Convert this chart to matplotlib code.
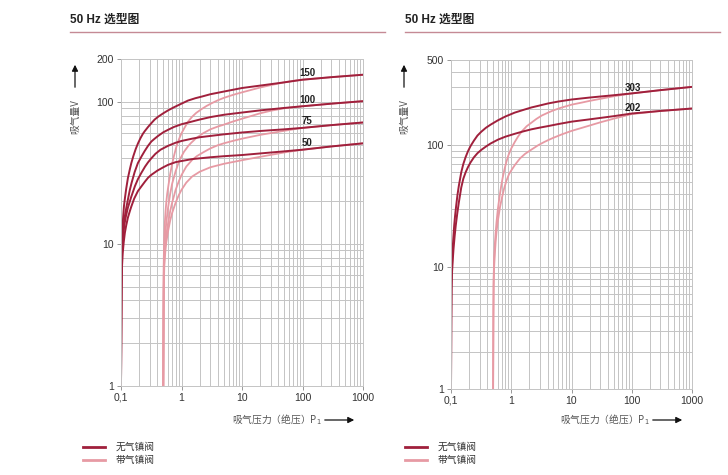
import numpy as np
import matplotlib
matplotlib.use("Agg")
from matplotlib import pyplot as plt
from matplotlib.lines import Line2D
from matplotlib.ticker import FixedLocator, LogLocator, NullFormatter

plt.rcParams['font.family'] = ['Liberation Sans', 'Noto Sans CJK SC', 'DejaVu Sans']

# colours
DARK = '#a0203c'
LIGHT = '#e79aa4'
GRID = '#c4c4c4'

# ---- left chart: pump sizes 50 / 75 / 100 / 150 ----
left_sizes = ['150', '100', '75', '50']

# without gas ballast (starts at 0,1 mbar)
p_dark_150 = [0.1, 0.101, 0.102, 0.104, 0.106, 0.108, 0.112, 0.117, 0.122, 0.13, 0.14, 0.148, 0.16, 0.175, 0.191, 0.21, 0.23, 0.246, 0.28, 0.32, 0.36, 0.42, 0.5, 0.6, 0.75, 1, 1.28, 1.7, 2.2, 3, 5, 10, 20, 50, 100, 300, 1000]
s_dark_150 = [1, 4, 8, 11, 13, 15, 18.5, 21.5, 24.5, 29, 33.5, 37, 41.5, 46.5, 51, 55.5, 59.5, 62, 66.5, 71, 75, 79, 83, 87, 91.5, 97, 102, 106, 109, 113, 118, 125, 130, 137, 143, 149, 155]
p_dark_100 = [0.1, 0.101, 0.102, 0.104, 0.106, 0.109, 0.113, 0.118, 0.124, 0.13, 0.14, 0.15, 0.168, 0.19, 0.22, 0.246, 0.28, 0.317, 0.36, 0.41, 0.5, 0.6, 0.75, 1, 1.3, 2, 3, 5, 10, 20, 50, 100, 300, 1000]
s_dark_100 = [1, 3.5, 7, 9.5, 11, 12.5, 14.5, 16.5, 18.5, 20.5, 24, 27, 32, 37, 41.5, 45, 49, 52.5, 55, 57.5, 61, 63.5, 66.5, 69.5, 71.5, 75, 78, 81, 84, 87, 90.5, 93, 97, 101]
p_dark_75 = [0.1, 0.101, 0.102, 0.104, 0.107, 0.111, 0.115, 0.12, 0.13, 0.148, 0.17, 0.19, 0.216, 0.25, 0.28, 0.317, 0.37, 0.45, 0.6, 0.8, 1, 1.5, 2, 3, 5, 10, 20, 50, 100, 300, 1000]
s_dark_75 = [1, 3, 6, 8.5, 10.5, 12.5, 14, 15.5, 18, 21.5, 25.5, 28.5, 31.5, 35, 37.5, 40, 43, 46, 49, 51.5, 53, 55, 56.3, 57.5, 59, 60.8, 62.3, 64, 65.5, 68.5, 71.5]
p_dark_50 = [0.1, 0.101, 0.102, 0.104, 0.107, 0.111, 0.116, 0.122, 0.13, 0.14, 0.148, 0.165, 0.19, 0.216, 0.25, 0.28, 0.317, 0.4, 0.5, 0.6, 0.8, 1, 1.5, 2, 3, 5, 10, 20, 50, 100, 300, 1000]
s_dark_50 = [1, 2.5, 5, 7, 8.7, 10.3, 12, 13.5, 15.3, 17, 18.3, 20.8, 23.5, 25.3, 27.5, 29.2, 30.6, 32.8, 34.6, 36, 37.6, 38.3, 39.5, 40, 40.7, 41.4, 42.2, 43.3, 44.8, 46, 48.5, 51]

# with gas ballast (starts at 0,5 mbar)
p_light_150 = [0.5, 0.505, 0.51, 0.52, 0.53, 0.545, 0.56, 0.58, 0.61, 0.65, 0.7, 0.75, 0.82, 0.9, 1, 1.13, 1.3, 1.5, 1.75, 2.12, 2.6, 3.2, 4, 5, 6.5, 8, 10, 15, 20, 30, 50, 75, 100, 300, 1000]
s_light_150 = [1, 4, 8, 11.5, 14, 17, 19.5, 22.5, 26, 31, 36.5, 41.5, 48, 54, 60, 66, 73, 78.5, 83.5, 88.5, 93.5, 98, 102.5, 106.5, 110.5, 113.5, 116.5, 122, 126, 131, 137, 141, 143, 149, 155]
p_light_100 = [0.5, 0.505, 0.51, 0.52, 0.535, 0.55, 0.57, 0.6, 0.65, 0.7, 0.8, 0.93, 1.1, 1.3, 1.45, 1.75, 2.27, 3, 4, 5, 7, 10, 15, 20, 30, 50, 100, 300, 1000]
s_light_100 = [1, 3.5, 7, 9.5, 11.5, 13, 15, 18, 22.5, 26.5, 32.5, 39, 44.5, 49, 51.5, 55.5, 60, 64, 67, 69, 72.5, 76, 80, 83, 86.5, 90, 93, 97, 101]
p_light_75 = [0.5, 0.505, 0.51, 0.52, 0.54, 0.56, 0.6, 0.65, 0.7, 0.8, 0.9, 1, 1.2, 1.5, 1.8, 2.27, 3, 4, 5, 7, 10, 20, 50, 100, 300, 1000]
s_light_75 = [1, 3, 6, 8, 10, 11.5, 14, 17, 19.5, 24, 27.5, 30.5, 35, 39, 41.5, 44, 47, 49.5, 51, 53, 55, 58.5, 62.5, 65.5, 68.5, 71.5]
p_light_50 = [0.5, 0.505, 0.51, 0.52, 0.54, 0.56, 0.6, 0.65, 0.7, 0.8, 0.9, 1, 1.2, 1.5, 2, 3, 5, 10, 20, 50, 100, 300, 1000]
s_light_50 = [1, 2.5, 5, 7, 8.8, 10.2, 12.3, 14.6, 16.5, 19.5, 22, 24, 27, 29.8, 32.2, 34.6, 36.6, 38.8, 41, 44, 46, 48.5, 51]

left_label_pos = [(120, 146), (120, 95), (120, 67), (120, 47)]

# ---- right chart: pump sizes 202 / 303 ----
right_sizes = ['303', '202']

p_dark_303 = [0.1, 0.101, 0.102, 0.104, 0.106, 0.109, 0.113, 0.117, 0.122, 0.128, 0.135, 0.148, 0.16, 0.175, 0.191, 0.21, 0.24, 0.275, 0.318, 0.38, 0.45, 0.6, 0.8, 1.14, 1.6, 2.16, 3, 4.08, 6, 10, 20, 50, 100, 300, 1000]
s_dark_303 = [1, 4, 7.5, 10.5, 13.5, 17, 22, 26.5, 32, 39, 46.5, 60, 70, 80, 89, 98, 109, 120, 129, 139, 147, 160, 172, 185, 195, 204, 212, 220, 228, 237, 246, 257, 266, 283, 301]
p_dark_202 = [0.1, 0.101, 0.102, 0.104, 0.107, 0.11, 0.115, 0.12, 0.127, 0.135, 0.148, 0.16, 0.175, 0.191, 0.21, 0.24, 0.275, 0.318, 0.38, 0.45, 0.6, 0.8, 1.14, 1.6, 2.16, 3, 4.08, 6, 10, 20, 50, 100, 300, 1000]
s_dark_202 = [1, 3.5, 6.5, 9, 11.5, 14, 18, 22, 27.5, 34, 45, 53, 60, 66, 72, 79.5, 86, 91.5, 97.5, 103, 111, 117.5, 124, 130, 135, 139.5, 143.5, 149, 156, 163, 173, 182, 191, 200]

p_light_303 = [0.5, 0.505, 0.51, 0.52, 0.535, 0.55, 0.57, 0.6, 0.64, 0.68, 0.72, 0.77, 0.83, 0.9, 1, 1.14, 1.3, 1.5, 1.8, 2.16, 2.6, 3.2, 4.08, 5, 6.5, 10, 15, 20, 30, 50, 100, 300, 1000]
s_light_303 = [1, 4, 8, 12, 15.5, 19, 23.5, 30, 38, 46, 54, 63, 73, 83, 94, 106, 118, 130, 143, 153, 164, 175, 185, 193, 202, 215, 224, 231, 240, 252, 266, 283, 301]
p_light_202 = [0.5, 0.505, 0.51, 0.52, 0.535, 0.55, 0.57, 0.6, 0.65, 0.7, 0.76, 0.83, 0.92, 1, 1.14, 1.4, 1.7, 2.16, 2.8, 3.5, 4.08, 5, 7, 10, 15, 20, 30, 50, 100, 300, 1000]
s_light_202 = [1, 3.5, 7, 10, 13, 16, 19.5, 24, 31, 37, 44, 51, 58, 62, 68.5, 78, 85, 92, 100, 106, 110, 115, 123, 131, 139, 145, 154, 165, 180, 191, 200]

right_label_pos = [(105, 268), (105, 183)]

x_ticks = [0.1, 1, 10, 100, 1000]
x_ticklabels = ['0,1', '1', '10', '100', '1000']
left_yticks = [1, 10, 100, 200]
right_yticks = [1, 10, 100, 500]

title_text = '50 Hz 选型图'
ylabel_text = '吸气量V'
xlabel_text = '吸气压力（绝压）P$_{1}$'
legend_texts = ['无气镇阀', '带气镇阀']

W, H = 728, 475
fig = plt.figure(figsize=(W / 100, H / 100), dpi=100)


def fx(px):
    return px / W


def fy(py):
    return 1 - py / H


def setup_axes(ax, ymax, yticks):
    ax.set_xscale('log')
    ax.set_yscale('log')
    ax.set_xlim(0.1, 1000)
    ax.set_ylim(1, ymax)
    ax.xaxis.set_major_locator(FixedLocator(x_ticks))
    ax.set_xticklabels(x_ticklabels)
    ax.xaxis.set_minor_locator(LogLocator(base=10, subs=np.arange(2, 10)))
    ax.xaxis.set_minor_formatter(NullFormatter())
    ax.yaxis.set_major_locator(FixedLocator(yticks))
    ax.set_yticklabels([str(t) for t in yticks])
    ax.yaxis.set_minor_locator(LogLocator(base=10, subs=np.arange(2, 10)))
    ax.yaxis.set_minor_formatter(NullFormatter())
    ax.grid(True, which='both', color=GRID, linewidth=0.7)
    ax.set_axisbelow(True)
    ax.spines['top'].set_visible(False)
    for side in ['left', 'bottom', 'right']:
        ax.spines[side].set_color(GRID)
        ax.spines[side].set_linewidth(0.7)
    ax.tick_params(which='major', length=3, width=0.6, color='#888888', labelsize=7.5, labelcolor='#333333', pad=2)
    ax.tick_params(which='minor', length=0)


def decorate(x0, x1, axis_cx, xlabel_x, arrow_x0, arrow_x1, leg_x):
    # title and rule under it
    fig.text(fx(x0), fy(20), title_text, fontsize=8.5, fontweight='bold', color='#222222', va='center')
    fig.add_artist(Line2D([fx(x0), fx(x1)], [fy(32), fy(32)], transform=fig.transFigure, color='#c58a95', linewidth=1.0))
    # y label with arrow
    fig.text(fx(axis_cx), fy(117), ylabel_text, rotation=90, fontsize=7, color='#555555', ha='center', va='center',
             family=['Noto Sans CJK SC', 'DejaVu Sans'])
    fig.add_artist(plt.Annotation('', xy=(fx(axis_cx), fy(62)), xytext=(fx(axis_cx), fy(90)),
                                  xycoords='figure fraction', textcoords='figure fraction',
                                  arrowprops=dict(arrowstyle='-|>', color='#111111', lw=0.9, mutation_scale=9)))
    # x label with arrow
    fig.text(fx(xlabel_x), fy(420), xlabel_text, fontsize=7, color='#555555', ha='left', va='center',
             family=['Noto Sans CJK SC', 'DejaVu Sans'])
    fig.add_artist(plt.Annotation('', xy=(fx(arrow_x1), fy(420)), xytext=(fx(arrow_x0), fy(420)),
                                  xycoords='figure fraction', textcoords='figure fraction',
                                  arrowprops=dict(arrowstyle='-|>', color='#111111', lw=0.9, mutation_scale=9)))
    # legend
    for i, (col, txt) in enumerate(zip([DARK, LIGHT], legend_texts)):
        yy = 447 + 13 * i
        fig.add_artist(Line2D([fx(leg_x), fx(leg_x + 22)], [fy(yy), fy(yy)], transform=fig.transFigure,
                              color=col, linewidth=2))
        fig.text(fx(leg_x + 33), fy(yy), txt, fontsize=7, color='#333333', va='center',
                 family=['Noto Sans CJK SC', 'DejaVu Sans'])


# left axes
ax1 = fig.add_axes([fx(121), fy(386), fx(363) - fx(121), fy(59) - fy(386)])
setup_axes(ax1, 200, left_yticks)
for p, s in [(p_light_150, s_light_150), (p_light_100, s_light_100), (p_light_75, s_light_75), (p_light_50, s_light_50)]:
    ax1.plot(p, s, color=LIGHT, linewidth=1.3, solid_capstyle='butt', solid_joinstyle='round')
for p, s in [(p_dark_150, s_dark_150), (p_dark_100, s_dark_100), (p_dark_75, s_dark_75), (p_dark_50, s_dark_50)]:
    ax1.plot(p, s, color=DARK, linewidth=1.4, solid_capstyle='butt', solid_joinstyle='round')
for name, (lx, ly) in zip(left_sizes, left_label_pos):
    ax1.text(lx, ly, name, fontsize=7, fontweight='bold', color='#222222', ha='center', va='bottom')

decorate(70, 385, 75, 232, 322, 357, 83)

# right axes
ax2 = fig.add_axes([fx(451), fy(389), fx(692) - fx(451), fy(60) - fy(389)])
setup_axes(ax2, 500, right_yticks)
for p, s in [(p_light_303, s_light_303), (p_light_202, s_light_202)]:
    ax2.plot(p, s, color=LIGHT, linewidth=1.3, solid_capstyle='butt', solid_joinstyle='round')
for p, s in [(p_dark_303, s_dark_303), (p_dark_202, s_dark_202)]:
    ax2.plot(p, s, color=DARK, linewidth=1.4, solid_capstyle='butt', solid_joinstyle='round')
for name, (lx, ly) in zip(right_sizes, right_label_pos):
    ax2.text(lx, ly, name, fontsize=7, fontweight='bold', color='#222222', ha='center', va='bottom')

decorate(405, 720, 404, 560, 650, 685, 405)

fig.savefig('out.png', dpi=100)
